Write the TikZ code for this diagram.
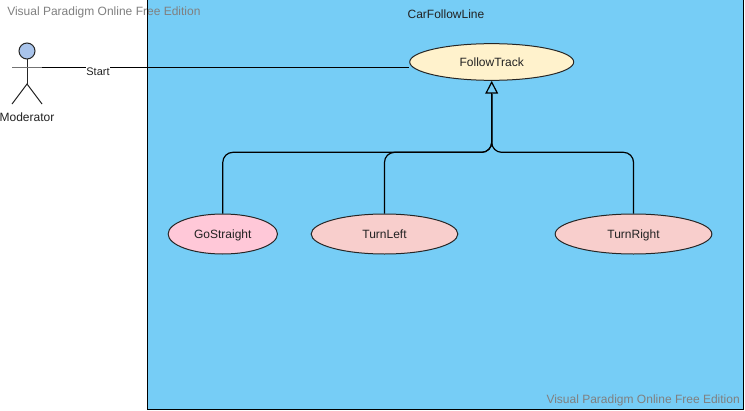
\documentclass[tikz,border=0pt]{standalone}
\usepackage{fontspec}
\setmainfont{Liberation Sans}
\usetikzlibrary{shapes.geometric,arrows.meta,calc}
\definecolor{sysblue}{HTML}{76CDF6}
\definecolor{ftfill}{HTML}{FFF2CC}
\definecolor{gofill}{HTML}{FFC8D8}
\definecolor{turnfill}{HTML}{F8CECC}
\definecolor{actfill}{HTML}{A9C4EB}
\definecolor{wmgray}{HTML}{808080}
\definecolor{txt}{HTML}{222222}
\tikzset{
  usecase/.style={draw=black!85,line width=0.75pt,ellipse,inner sep=0pt,text=txt,text height=7pt,text depth=0.5pt,font=\fontsize{9pt}{11pt}\selectfont},
  wmark/.style={text=wmgray,inner sep=0pt,font=\fontsize{9pt}{11pt}\selectfont},
  plain/.style={text=txt,inner sep=0pt,font=\fontsize{9pt}{11pt}\selectfont},
  small/.style={text=txt,inner sep=0pt,font=\fontsize{8.25pt}{10pt}\selectfont},
  link/.style={draw=black,line width=0.9pt},
  gen/.style={link,rounded corners=7.5pt},
  genhead/.style={link,-{Triangle[open,length=9.5pt,width=9.5pt,line width=0.9pt]}},
  actorline/.style={draw=black!85,line width=0.75pt},
  actorarm/.style={draw=black!55,line width=1pt},
  border/.style={draw=black,line width=0.75pt}
}
\begin{document}
\begin{tikzpicture}[x=0.75pt,y=-0.75pt]
\useasboundingbox (0,0) rectangle (745,410);
\fill[white] (0,0) rectangle (745,410);
\fill[sysblue] (147.5,-2) rectangle (743.5,409.5);
\node[wmark,anchor=west] (wmA) at (7,12) {Visual Paradigm Online Free Edition};
\node[wmark,anchor=east] (wmB) at (740,400) {Visual Paradigm Online Free Edition};
\draw[border] (147.5,-2) rectangle (743.5,409.5);
\node[plain] (sys) at (446,14) {CarFollowLine};

% actor
\coordinate (head) at (27,51);
\draw[actorline,fill=actfill] (head) circle (8);
\coordinate (neck) at (27,59);
\coordinate (hip) at (27,84);
\coordinate (armL) at (12,67.5);
\coordinate (armR) at (42,67.5);
\coordinate (legL) at (12,104);
\coordinate (legR) at (42,104);
\draw[actorline] (neck) -- (hip);
\draw[actorarm] (armL) -- (armR);
\draw[actorline] (legL) -- (hip) -- (legR);
\node[plain] (mod) at (27,117) {Moderator};

% use cases
\node[usecase,fill=ftfill,minimum width=123pt,minimum height=27.5pt] (follow) at (491.7,62) {FollowTrack};
\node[usecase,fill=gofill,minimum width=82pt,minimum height=30pt] (go) at (222.8,234) {GoStraight};
\node[usecase,fill=turnfill,minimum width=110pt,minimum height=30pt] (left) at (384.5,234) {TurnLeft};
\node[usecase,fill=turnfill,minimum width=117.5pt,minimum height=30pt] (right) at (633.5,234) {TurnRight};

% connectors
\coordinate (fend) at (follow.west |- armR);
\draw[link] (armR) -- (fend);
\node[small,fill=white,inner xsep=0.5pt,inner ysep=0.5pt] (start) at (98,72) {Start};

\coordinate (busgo) at ($(follow.south)+(0,71.5)$);
\draw[gen] (go.north) |- (busgo) -- ($(follow.south)+(0,13)$);
\draw[gen] (left.north) |- (busgo) -- ($(follow.south)+(0,13)$);
\draw[gen] (right.north) |- (busgo) -- ($(follow.south)+(0,13)$);
\draw[genhead] ($(follow.south)+(0,30)$) -- (follow.south);
\end{tikzpicture}
\end{document}
